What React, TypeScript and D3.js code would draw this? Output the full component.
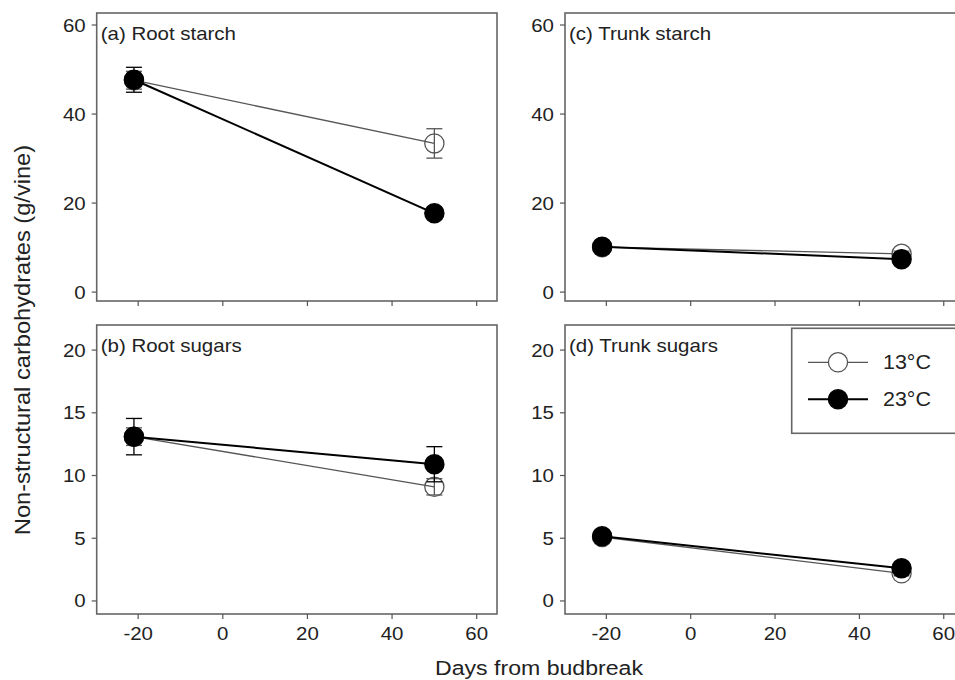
import React from "react";
import * as d3 from "d3";

// days from budbreak for the two sampling dates
const days = [-21, 50];

const rootStarch13 = [47.6, 33.4];
const rootStarch13Se = [2.0, 3.3];
const rootStarch23 = [47.7, 17.7];
const rootStarch23Se = [2.8, 1.2];

const trunkStarch13 = [10.1, 8.6];
const trunkStarch13Se = [0.5, 0.6];
const trunkStarch23 = [10.2, 7.4];
const trunkStarch23Se = [0.6, 0.5];

const rootSugars13 = [13.1, 9.1];
const rootSugars13Se = [0.7, 0.65];
const rootSugars23 = [13.1, 10.9];
const rootSugars23Se = [1.45, 1.4];

const trunkSugars13 = [5.1, 2.2];
const trunkSugars13Se = [0.3, 0.2];
const trunkSugars23 = [5.15, 2.6];
const trunkSugars23Se = [0.3, 0.3];

const xTicks = [-20, 0, 20, 40, 60];
const starchTicks = [0, 20, 40, 60];
const sugarTicks = [0, 5, 10, 15, 20];
const legendLabels = ["13°C", "23°C"];

const FONT = "'Liberation Sans', Arial, Helvetica, sans-serif";
const SX = 1.1; // text in the original is a bit wider than Arial
const GREY = "#555";

function T({ x, y, size, anchor = "start", rotate = 0, children }) {
  return (
    <text
      transform={`translate(${x},${y}) rotate(${rotate}) scale(${SX},1)`}
      fontFamily={FONT}
      fontSize={size}
      textAnchor={anchor}
      fill="#222"
    >
      {children}
    </text>
  );
}

function Panel({ left, right, top, bottom, yDomain, yTicks, label, s13, e13, s23, e23, xLabels }) {
  const x = d3.scaleLinear().domain([-29.8, 64.8]).range([left, right]);
  const y = d3.scaleLinear().domain(yDomain).range([bottom, top]);
  const line = d3
    .line<number>()
    .x((d, i) => x(days[i]))
    .y((d) => y(d));

  const series = [
    { v: s13, e: e13, color: GREY, lw: 1.3, filled: false },
    { v: s23, e: e23, color: "#000", lw: 2, filled: true },
  ];

  return (
    <g>
      <rect x={left} y={top} width={right - left} height={bottom - top} fill="none" stroke="#666" strokeWidth={1.6} />
      {yTicks.map((t) => (
        <g key={"y" + t}>
          <line x1={left - 5} x2={left} y1={y(t)} y2={y(t)} stroke="#555" strokeWidth={1.2} />
          <T x={left - 11} y={y(t) + 6.5} size={18.6} anchor="end">
            {t}
          </T>
        </g>
      ))}
      {xTicks.map((t) => (
        <g key={"x" + t}>
          <line x1={x(t)} x2={x(t)} y1={bottom} y2={bottom + 5} stroke="#555" strokeWidth={1.2} />
          {xLabels && (
            <T x={x(t)} y={bottom + 26} size={18.6} anchor="middle">
              {t}
            </T>
          )}
        </g>
      ))}
      <T x={left + 4} y={top + 27} size={18.6}>
        {label}
      </T>
      {series.map((s, k) => (
        <g key={k}>
          <path d={line(s.v)} fill="none" stroke={s.color} strokeWidth={s.lw} />
          {s.v.map((v, i) => (
            <g key={i} stroke={s.color} strokeWidth={1.3}>
              <line x1={x(days[i])} x2={x(days[i])} y1={y(v - s.e[i])} y2={y(v + s.e[i])} />
              <line x1={x(days[i]) - 8} x2={x(days[i]) + 8} y1={y(v + s.e[i])} y2={y(v + s.e[i])} />
              <line x1={x(days[i]) - 8} x2={x(days[i]) + 8} y1={y(v - s.e[i])} y2={y(v - s.e[i])} />
            </g>
          ))}
          {s.v.map((v, i) => (
            <circle
              key={"c" + i}
              cx={x(days[i])}
              cy={y(v)}
              r={9.6}
              fill={s.filled ? "#000" : "none"}
              stroke={s.filled ? "#000" : GREY}
              strokeWidth={1.3}
            />
          ))}
        </g>
      ))}
    </g>
  );
}

export default function App() {
  const L = [96.7, 497];
  const R = [565, 964];
  const TOP = [13, 301];
  const BOT = [325, 614];
  const starchDomain = [-2.0, 62.7];
  const sugarDomain = [-1.04, 22];

  return (
    <svg width={955} height={680} style={{ display: "block", position: "absolute", left: 0, top: 0, background: "#fff" }}>
      <Panel left={L[0]} right={L[1]} top={TOP[0]} bottom={TOP[1]} yDomain={starchDomain} yTicks={starchTicks}
        label="(a) Root starch" s13={rootStarch13} e13={rootStarch13Se} s23={rootStarch23} e23={rootStarch23Se} xLabels={false} />
      <Panel left={R[0]} right={R[1]} top={TOP[0]} bottom={TOP[1]} yDomain={starchDomain} yTicks={starchTicks}
        label="(c) Trunk starch" s13={trunkStarch13} e13={trunkStarch13Se} s23={trunkStarch23} e23={trunkStarch23Se} xLabels={false} />
      <Panel left={L[0]} right={L[1]} top={BOT[0]} bottom={BOT[1]} yDomain={sugarDomain} yTicks={sugarTicks}
        label="(b) Root sugars" s13={rootSugars13} e13={rootSugars13Se} s23={rootSugars23} e23={rootSugars23Se} xLabels={true} />
      <Panel left={R[0]} right={R[1]} top={BOT[0]} bottom={BOT[1]} yDomain={sugarDomain} yTicks={sugarTicks}
        label="(d) Trunk sugars" s13={trunkSugars13} e13={trunkSugars13Se} s23={trunkSugars23} e23={trunkSugars23Se} xLabels={true} />

      {/* Legend */}
      <g>
        <rect x={791.7} y={328.3} width={200} height={105} fill="#fff" stroke="#666" strokeWidth={1.6} />
        {legendLabels.map((lab, i) => {
          const ly = 362.3 + i * 37;
          const filled = i === 1;
          return (
            <g key={lab}>
              <line x1={808} x2={868} y1={ly} y2={ly} stroke={filled ? "#000" : GREY} strokeWidth={filled ? 2 : 1.3} />
              <circle cx={838} cy={ly} r={9.6} fill={filled ? "#000" : "#fff"} stroke={filled ? "#000" : GREY} strokeWidth={1.3} />
              <T x={883} y={ly + 7} size={19.5}>
                {lab}
              </T>
            </g>
          );
        })}
      </g>

      <T x={539} y={675} size={21} anchor="middle">
        Days from budbreak
      </T>
      <T x={30} y={340} size={21.5} anchor="middle" rotate={-90}>
        Non-structural carbohydrates (g/vine)
      </T>
    </svg>
  );
}
